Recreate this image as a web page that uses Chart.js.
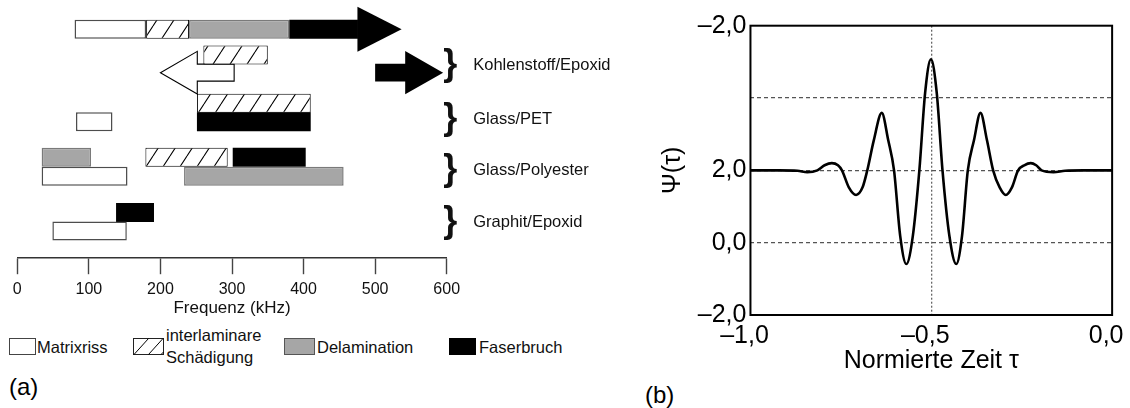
<!DOCTYPE html>
<html>
<head>
<meta charset="utf-8">
<script src="https://cdn.jsdelivr.net/npm/chart.js@4.4.1/dist/chart.umd.min.js"></script>
<style>
  html, body { margin: 0; padding: 0; background: #fff; }
  body { width: 1130px; height: 408px; position: relative; overflow: hidden;
         font-family: "Liberation Sans", Arial, sans-serif; color: #000; }
  #freq { position: absolute; left: 0; top: 0; }
  #wave { position: absolute; left: 640px; top: 0; }
  .key { position: absolute; top: 338px; height: 17px; box-sizing: border-box; }
  .lbl { position: absolute; font-size: 16.5px; line-height: 20px; white-space: nowrap; color: #111; }
  .panel { position: absolute; font-size: 24px; line-height: 28px; }
</style>
</head>
<body>
<canvas id="freq" width="640" height="317"></canvas>
<canvas id="wave" width="498" height="374"></canvas>

<!-- legend of damage mechanisms -->
<div class="key" style="left:9px;width:27px;border:1.3px solid #444;background:#fff"></div>
<span class="lbl" style="left:37px;top:336.7px">Matrixriss</span>
<svg class="key" style="left:133px;width:31px" width="31" height="17" viewBox="0 0 31 17">
  <rect x="0.5" y="0.5" width="30" height="16" fill="#fff" stroke="#222" stroke-width="1"/>
  <path d="M1 16.5 L15.5 0.5 M15.5 16.5 L30 0.5 M28 16.5 L30.5 14" stroke="#000" stroke-width="1" fill="none"/>
</svg>
<span class="lbl" style="left:166px;top:325px">interlaminare</span>
<span class="lbl" style="left:166px;top:346.7px">Schädigung</span>
<div class="key" style="left:284px;width:31px;border:1.5px solid #555;background:#a6a6a6"></div>
<span class="lbl" style="left:317px;top:336.7px">Delamination</span>
<div class="key" style="left:449px;width:27px;background:#000"></div>
<span class="lbl" style="left:479px;top:336.7px">Faserbruch</span>

<span class="panel" style="left:9px;top:372.5px">(a)</span>
<span class="panel" style="left:645px;top:381px">(b)</span>

<script>
// ---------- (a) frequency ranges of damage mechanisms ----------
const damageTypes = ['Matrixriss', 'interlaminare Schädigung', 'Delamination', 'Faserbruch'];
const materials = ['Kohlenstoff/Epoxid', 'Glass/PET', 'Glass/Polyester', 'Graphit/Epoxid'];
const materialLanes = [3.55, 6.48, 9.24, 12.06];

// frequency ranges in kHz, lane = vertical row position
const matrixRanges = [[80, 180], [82, 133], [34, 154], [49, 153]];
const matrixLanes = [1.59, 6.6, 9.55, 12.52];
const interlamRanges = [[180, 240], [260, 350], [251, 410], [179, 294]];
const interlamLanes = [1.59, 2.98, 5.6, 8.52];
const delamRanges = [[240, 380], [34, 103], [233, 456]];
const delamLanes = [1.59, 8.52, 9.55];
const fiberRanges = [[380, 476], [251, 410], [301, 403], [138, 191]];
const fiberLanes = [1.59, 6.6, 8.52, 11.52];

// arrowhead closing the top fibre-break bar: [base kHz, tip kHz, lane]
const fiberArrowHead = [476, 537, 1.59];
// hollow arrow towards lower frequencies: [tail kHz, head base kHz, tip kHz, lane]
const shiftArrow = [303, 251.5, 200, 3.94];
// solid marker arrow beside the carbon/epoxy label
const markerArrow = [500, 542, 595, 3.94];

const freqTicks = [0, 100, 200, 300, 400, 500, 600];

// ---------- (b) wavelet ----------
const waveT = [-1.00, -0.92, -0.87, -0.843, -0.815, -0.795, -0.775, -0.758, -0.747, -0.728,
               -0.708, -0.690, -0.677, -0.659, -0.637, -0.619, -0.603, -0.586, -0.569, -0.551,
               -0.533, -0.517, -0.501, -0.485, -0.469, -0.450, -0.431, -0.415, -0.399, -0.382,
               -0.364, -0.346, -0.329, -0.311, -0.294, -0.277, -0.260, -0.243, -0.225, -0.210,
               -0.195, -0.162, -0.13, -0.08, 0.00];
const waveV = [2.00, 2.00, 1.99, 1.95, 2.00, 2.14, 2.20, 2.14, 2.00, 1.53,
               1.32, 1.53, 2.00, 2.83, 3.59, 2.83, 2.00, 0.19, -0.59, 0.19,
               2.00, 4.15, 5.07, 4.15, 2.00, 0.19, -0.59, 0.19, 2.00, 2.83,
               3.59, 2.83, 2.00, 1.53, 1.32, 1.53, 2.00, 2.14, 2.20, 2.14,
               2.00, 1.95, 1.99, 2.00, 2.00];
const xTickLabels = ['\u20131,0', '\u20130,5', '0,0'];
const yTickLabels = ['\u20132,0', '0,0', '2,0', '', '\u20132,0'];

Chart.defaults.font.family = '"Liberation Sans", Arial, sans-serif';
Chart.defaults.color = '#000';

function hatchPattern(ctx) {
  const c = document.createElement('canvas');
  c.width = 17; c.height = 26;
  const g = c.getContext('2d');
  g.fillStyle = '#fff';
  g.fillRect(0, 0, 17, 26);
  g.strokeStyle = '#000';
  g.lineWidth = 1.1;
  g.beginPath();
  for (const dx of [-17, 0, 17]) { g.moveTo(dx, 26); g.lineTo(dx + 17, 0); }
  g.stroke();
  return ctx.createPattern(c, 'repeat');
}

const freqCanvas = document.getElementById('freq');
const freqCtx = freqCanvas.getContext('2d');

function toPoints(ranges, lanes) {
  return ranges.map((r, i) => ({ x: r, y: lanes[i] }));
}

const barCommon = { grouped: false, categoryPercentage: 1, barPercentage: 1.03, borderSkipped: false };

function arrowPath(ctx, xt, xb, xp, cy, sh, hh) {
  ctx.beginPath();
  ctx.moveTo(xt, cy - sh);
  ctx.lineTo(xb, cy - sh);
  ctx.lineTo(xb, cy - hh);
  ctx.lineTo(xp, cy);
  ctx.lineTo(xb, cy + hh);
  ctx.lineTo(xb, cy + sh);
  ctx.lineTo(xt, cy + sh);
  ctx.closePath();
}

const annotate = {
  id: 'annotate',
  beforeDatasetsDraw(chart) {
    const { ctx, scales: { x, y } } = chart;
    const [tail, base, tip, lane] = shiftArrow;
    ctx.save();
    arrowPath(ctx, x.getPixelForValue(tail), x.getPixelForValue(base), x.getPixelForValue(tip),
              y.getPixelForValue(lane), 8.5, 21.3);
    ctx.fillStyle = '#fff';
    ctx.fill();
    ctx.lineWidth = 1.1;
    ctx.strokeStyle = '#000';
    ctx.stroke();
    ctx.restore();
  },
  afterDatasetsDraw(chart) {
    const { ctx, chartArea, scales: { x, y } } = chart;
    ctx.save();
    ctx.fillStyle = '#000';
    {
      const [base, tip, lane] = fiberArrowHead;
      const cy = y.getPixelForValue(lane), hh = 22.5;
      const xb = x.getPixelForValue(base), xp = x.getPixelForValue(tip);
      ctx.beginPath();
      ctx.moveTo(xb - 0.5, cy - hh);
      ctx.lineTo(xp, cy);
      ctx.lineTo(xb - 0.5, cy + hh);
      ctx.closePath();
      ctx.fill();
    }
    {
      const [tail, base, tip, lane] = markerArrow;
      arrowPath(ctx, x.getPixelForValue(tail), x.getPixelForValue(base), x.getPixelForValue(tip),
                y.getPixelForValue(lane), 8.8, 21.7);
      ctx.fill();
    }
    materials.forEach((name, i) => {
      const cy = y.getPixelForValue(materialLanes[i]);
      ctx.fillStyle = '#111';
      ctx.textAlign = 'center';
      ctx.textBaseline = 'alphabetic';
      ctx.font = 'bold 36px "Liberation Sans", Arial, sans-serif';
      ctx.fillText('}', chartArea.right + 3.5, cy + 0.26 * 36);
      ctx.textAlign = 'left';
      ctx.textBaseline = 'middle';
      ctx.font = '16.5px "Liberation Sans", Arial, sans-serif';
      ctx.fillText(name, chartArea.right + 26.5, cy);
    });
    ctx.restore();
  }
};

new Chart(freqCanvas, {
  type: 'bar',
  data: {
    datasets: [
      Object.assign({ label: damageTypes[0], data: toPoints(matrixRanges, matrixLanes),
        backgroundColor: '#fff', borderColor: '#4d4d4d', borderWidth: 1.5 }, barCommon),
      Object.assign({ label: damageTypes[1], data: toPoints(interlamRanges, interlamLanes),
        backgroundColor: hatchPattern(freqCtx), borderColor: '#000', borderWidth: 1 }, barCommon),
      Object.assign({ label: damageTypes[2], data: toPoints(delamRanges, delamLanes),
        backgroundColor: '#a6a6a6', borderColor: '#7a7a7a', borderWidth: 1.5 }, barCommon),
      Object.assign({ label: damageTypes[3], data: toPoints(fiberRanges, fiberLanes),
        backgroundColor: '#000', borderColor: '#000', borderWidth: 0 }, barCommon)
    ]
  },
  options: {
    indexAxis: 'y',
    responsive: false,
    animation: false,
    layout: { padding: { left: 17.3, right: 193.3, top: 0, bottom: 0 } },
    plugins: { legend: { display: false }, tooltip: { enabled: false } },
    scales: {
      x: {
        type: 'linear', min: freqTicks[0], max: freqTicks[freqTicks.length - 1],
        afterBuildTicks: (s) => { s.ticks = freqTicks.map(v => ({ value: v })); },
        ticks: { padding: 6.1, color: '#111', font: { size: 16 } },
        grid: { drawOnChartArea: false, drawTicks: true, tickLength: 16, tickColor: '#444', tickWidth: 1.4 },
        border: { display: true, color: '#333', width: 1.5 },
        title: { display: true, text: 'Frequenz (kHz)', color: '#111',
                 font: { size: 17, lineHeight: 1 }, padding: { top: -5.6, bottom: 0 } }
      },
      y: { type: 'linear', min: 0, max: 14, reverse: true, offset: false, display: false,
           grid: { offset: false }, ticks: { stepSize: 14 } }
    }
  },
  plugins: [annotate]
});

// ---------- (b) ----------
const frame = {
  id: 'frame',
  afterDatasetsDraw(chart) {
    const { ctx, chartArea: a } = chart;
    ctx.save();
    ctx.strokeStyle = '#000';
    ctx.lineWidth = 2;
    ctx.strokeRect(a.left, a.top, a.right - a.left, a.bottom - a.top);
    ctx.restore();
  }
};

new Chart(document.getElementById('wave'), {
  type: 'line',
  data: {
    datasets: [{
      data: waveT.map((t, i) => ({ x: t, y: waveV[i] })),
      borderColor: '#000', borderWidth: 2.6, pointRadius: 0,
      cubicInterpolationMode: 'monotone', fill: false
    }]
  },
  options: {
    responsive: false,
    animation: false,
    layout: { padding: { left: 20.5, right: 18.3, top: 25.7, bottom: 0 } },
    plugins: { legend: { display: false }, tooltip: { enabled: false } },
    scales: {
      x: {
        type: 'linear', min: -1, max: 0,
        ticks: { stepSize: 0.5, padding: 8.5, labelOffset: -6, color: '#000',
                 font: { size: 25, lineHeight: 1 }, maxRotation: 0,
                 callback: (v, i) => xTickLabels[i] },
        grid: { drawTicks: false, lineWidth: 1.3,
                color: (c) => (c.tick && c.tick.value > -1 && c.tick.value < 0) ? '#666' : 'rgba(0,0,0,0)' },
        border: { display: false, dash: [2, 2] },
        title: { display: true, text: 'Normierte Zeit \u03c4', color: '#000',
                 font: { size: 25, lineHeight: 1 }, padding: { top: -8, bottom: 0 } }
      },
      y: {
        type: 'linear', min: -2, max: 6,
        ticks: { stepSize: 2, padding: 4, color: '#000', font: { size: 25, lineHeight: 1 },
                 callback: (v, i) => yTickLabels[i] },
        grid: { drawTicks: false, lineWidth: 1.2,
                color: (c) => (c.tick && c.tick.value > -2 && c.tick.value < 6) ? '#555' : 'rgba(0,0,0,0)' },
        border: { display: false, dash: [4, 3] },
        title: { display: true, text: '\u03a8(\u03c4)', color: '#000',
                 font: { size: 25, lineHeight: 1 }, padding: { top: 0, bottom: 8.3 } }
      }
    }
  },
  plugins: [frame]
});
</script>
</body>
</html>
